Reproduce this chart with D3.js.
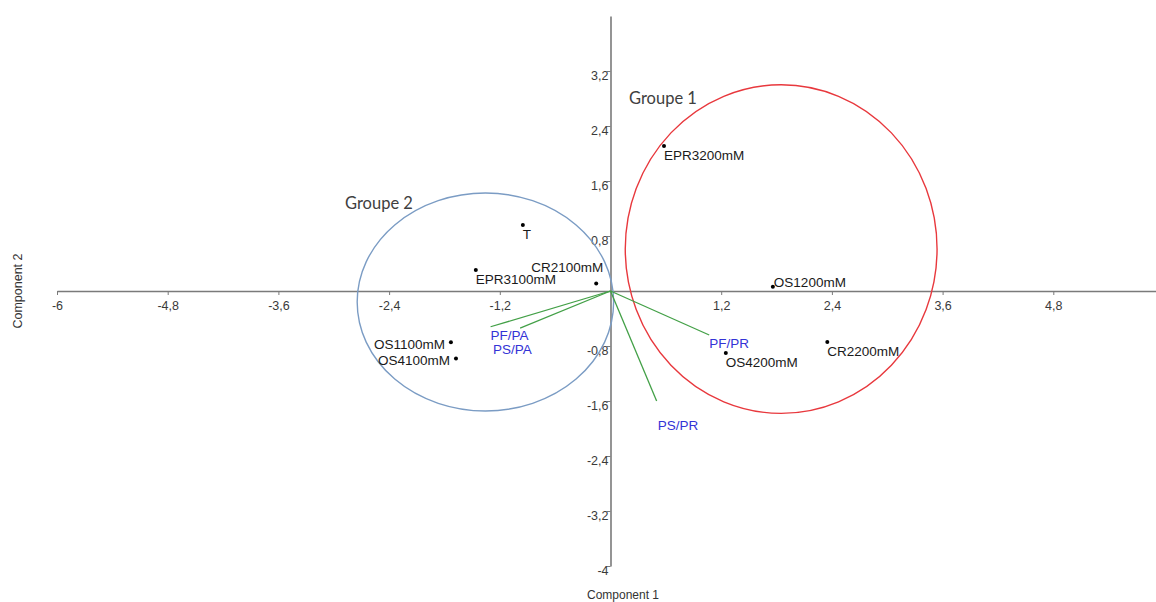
<!DOCTYPE html>
<html><head><meta charset="utf-8">
<script src="https://cdn.jsdelivr.net/npm/d3@7"></script>
<style>body{margin:0;background:#fff;}svg{display:block;}</style>
</head><body><svg id="c" width="1156" height="602"></svg>
<script>
// ---- data ----
const pointNames = ["EPR3200mM","T","EPR3100mM","CR2100mM","OS1100mM","OS4100mM","OS1200mM","OS4200mM","CR2200mM"];
const pointX = [0.58, -0.95, -1.46, -0.155, -1.73, -1.675, 1.76, 1.25, 2.35];
const pointY = [2.11, 0.96, 0.305, 0.11, -0.745, -0.98, 0.063, -0.90, -0.74];
const pointLabelSide = ["below","below","below","aboveLeft","left","left","right","below","below"];

const vectorNames = ["PF/PA","PS/PA","PF/PR","PS/PR"];
const vectorX = [-1.30, -0.98, 1.07, 0.50];
const vectorY = [-0.52, -0.54, -0.64, -1.60];

const groupNames = ["Groupe 1","Groupe 2"];
const groupCX = [1.85, -1.356];
const groupCY = [0.61, -0.16];
const groupRX = [1.69, 1.39];
const groupRY = [2.39, 1.585];

const xTicks = [-6,-4.8,-3.6,-2.4,-1.2,1.2,2.4,3.6,4.8];
const yTicks = [-4,-3.2,-2.4,-1.6,-0.8,0.8,1.6,2.4,3.2];
const xTitle = "Component 1";
const yTitle = "Component 2";

// ---- drawing ----
const svg = d3.select("#c");
const x = d3.scaleLinear().domain([-6, 6]).range([57, 1164]);
const y = d3.scaleLinear().domain([-4, 4]).range([566, 16]);
const fmt = v => String(+v.toFixed(1)).replace(".", ",");
const font = "'Liberation Sans', Arial, sans-serif";

// axes
const gx = svg.append("g").attr("transform", `translate(0,${y(0)})`)
  .call(d3.axisBottom(x).tickValues(xTicks).tickFormat(fmt).tickSize(4).tickSizeOuter(0).tickPadding(6));
const gy = svg.append("g").attr("transform", `translate(${x(0)},0)`)
  .call(d3.axisLeft(y).tickValues(yTicks).tickFormat(fmt).tickSize(4).tickSizeOuter(0).tickPadding(-2));
[gx, gy].forEach(g => {
  g.select(".domain").attr("stroke", "#7a7a7a").attr("stroke-width", 1.6);
  g.selectAll(".tick line").attr("stroke", "#7a7a7a").attr("stroke-width", 1);
  g.selectAll(".tick text").attr("fill", "#3a3a3a").style("font-family", font).style("font-size", "12.5px");
});
gy.selectAll(".tick text").attr("dy", "0.7em");
gx.selectAll(".tick text").attr("dy", "0.75em");

// axis titles
svg.append("text").attr("x", 623).attr("y", 599).attr("text-anchor", "middle")
  .style("font-family", font).style("font-size", "12px").attr("fill", "#333").text(xTitle);
svg.append("text").attr("transform", `translate(22,${y(0)}) rotate(-90)`).attr("text-anchor", "middle")
  .style("font-family", font).style("font-size", "12.5px").attr("fill", "#333").text(yTitle);

// group ellipses
const groupColors = ["#e8383d", "#7b9cc4"];
svg.append("g").selectAll("ellipse").data(groupNames).join("ellipse")
  .attr("cx", (d,i) => x(groupCX[i])).attr("cy", (d,i) => y(groupCY[i]))
  .attr("rx", (d,i) => x(groupRX[i]) - x(0)).attr("ry", (d,i) => y(0) - y(groupRY[i]))
  .attr("fill", "none").attr("stroke", (d,i) => groupColors[i]).attr("stroke-width", 1.4);

// group labels
const groupLabelPos = [[629, 104], [345, 209]];
svg.append("g").selectAll("text").data(groupNames).join("text")
  .attr("x", (d,i) => groupLabelPos[i][0]).attr("y", (d,i) => groupLabelPos[i][1])
  .style("font-family", "Lato, 'Open Sans', sans-serif").style("font-size", "16.5px")
  .attr("fill", "#404040").text(d => d);

// vectors
svg.append("g").selectAll("line").data(vectorNames).join("line")
  .attr("x1", x(0)).attr("y1", y(0))
  .attr("x2", (d,i) => x(vectorX[i])).attr("y2", (d,i) => y(vectorY[i]))
  .attr("stroke", "#43a047").attr("stroke-width", 1.3);
const vecLabelOff = [[0, 13], [-27, 26], [0, 13], [1, 29]];
svg.append("g").selectAll("text").data(vectorNames).join("text")
  .attr("x", (d,i) => x(vectorX[i]) + vecLabelOff[i][0])
  .attr("y", (d,i) => y(vectorY[i]) + vecLabelOff[i][1])
  .style("font-family", font).style("font-size", "13.5px").attr("fill", "#3333d6").text(d => d);

// points
svg.append("g").selectAll("circle").data(pointNames).join("circle")
  .attr("cx", (d,i) => x(pointX[i])).attr("cy", (d,i) => y(pointY[i])).attr("r", 2).attr("fill", "#000");
const side = {below:[0, 14, "start"], aboveLeft:[7, -11, "end"], left:[-6, 7, "end"], right:[1, 0, "start"]};
svg.append("g").selectAll("text").data(pointNames).join("text")
  .attr("x", (d,i) => x(pointX[i]) + side[pointLabelSide[i]][0])
  .attr("y", (d,i) => y(pointY[i]) + side[pointLabelSide[i]][1])
  .attr("text-anchor", (d,i) => side[pointLabelSide[i]][2])
  .style("font-family", font).style("font-size", "13.5px").attr("fill", "#1a1a1a").text(d => d);
</script></body></html>
